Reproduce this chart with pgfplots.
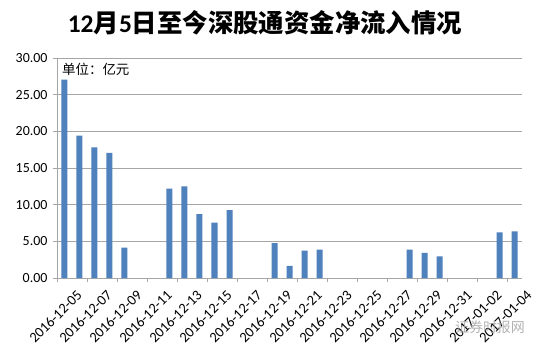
\documentclass[border=0pt]{standalone}
\usepackage{fontspec}
\setmainfont{Carlito}
\newfontfamily\cjk{Noto Sans CJK SC}
\usepackage{pgfplots}
\pgfplotsset{compat=1.18}
\definecolor{barblue}{HTML}{4F81BD}
\definecolor{gridgray}{HTML}{A6A6A6}
\begin{document}
\begin{tikzpicture}
\useasboundingbox[fill=white] (-57bp,-72bp) rectangle (480bp,278bp);
\begin{axis}[
  at={(0,0)}, anchor=south west,
  scale only axis, width=465bp, height=220bp,
  xmin=-0.5, xmax=30.5, ymin=0, ymax=30,
  axis x line*=bottom, axis y line*=left,
  axis line style={-, draw=gridgray, line width=0.8bp},
  tick align=outside,
  ytick={0,5,...,30},
  yticklabel={\pgfmathprintnumber[fixed,fixed zerofill,precision=2,assume math mode=true]{\tick}},
  yticklabel style={font=\fontsize{14}{14}\selectfont, xshift=-2bp},
  ytick style={draw=gridgray, line width=0.8bp},
  major tick length=4bp,
  ymajorgrids, grid style={draw=gridgray, line width=0.8bp},
  xtick={0,2,...,30},
  xticklabels={2016-12-05,2016-12-07,2016-12-09,2016-12-11,2016-12-13,2016-12-15,2016-12-17,2016-12-19,2016-12-21,2016-12-23,2016-12-25,2016-12-27,2016-12-29,2016-12-31,2017-01-02,2017-01-04},
  xticklabel style={font=\fontsize{14.5}{14.5}\selectfont, rotate=45, anchor=north east, inner sep=1bp, yshift=-12bp, xshift=4bp},
  xtick style={draw=none},
  extra x ticks={-0.5,1.5,...,29.5},
  extra x tick labels={},
  extra x tick style={xtick style={draw=gridgray, line width=0.8bp}, major tick length=4bp},
  /pgf/number format/assume math mode=true,
]
\addplot[ybar, bar width=6bp, fill=barblue, draw=none] coordinates {
  (0,27.05) (1,19.4) (2,17.8) (3,17.05) (4,4.14)
  (7,12.2) (8,12.5) (9,8.7) (10,7.55) (11,9.27)
  (14,4.77) (15,1.64) (16,3.73) (17,3.86)
  (23,3.86) (24,3.41) (25,2.95)
  (29,6.23) (30,6.36)
};
\end{axis}
\node[font=\fontsize{25.5}{25.5}\selectfont\bfseries] at (208bp,255bp) {12{\cjk\bfseries 月}5{\cjk\bfseries 日至今深股通资金净流入情况}};
\node[anchor=west, inner sep=0pt, font=\cjk\fontsize{13.5}{13.5}\selectfont] at (5bp,209bp) {单位：亿元};
\node[font=\cjk\fontsize{14}{14}\selectfont, text=gray!70, opacity=0.85] at (433bp,-49bp) {证券时报网};
\end{tikzpicture}
\end{document}
